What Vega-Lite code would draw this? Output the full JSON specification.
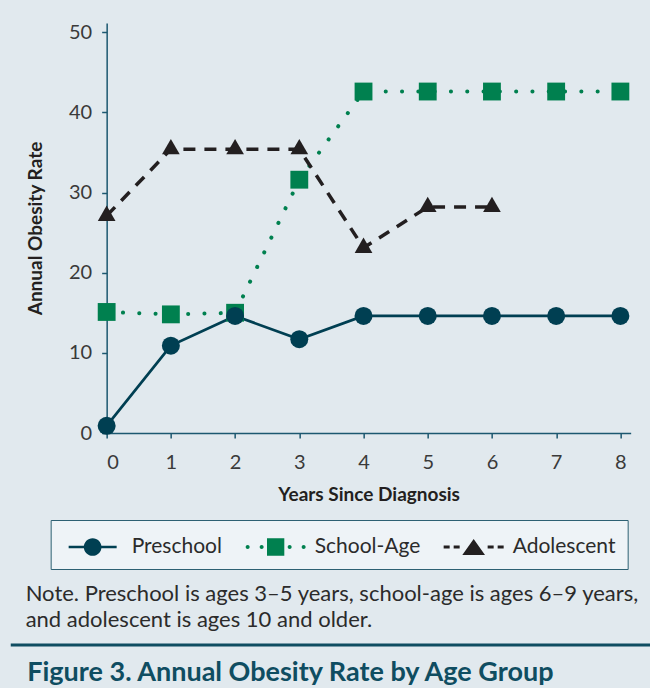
{
  "$schema": "https://vega.github.io/schema/vega-lite/v6.json",
  "background": "#e1e9ee",
  "padding": {"left": 10, "top": 22, "right": 0, "bottom": 0},
  "spacing": 12,
  "center": true,
  "config": {
    "font": "Lato",
    "view": {"stroke": null},
    "axis": {
      "domainColor": "#1c5870",
      "tickColor": "#1c5870",
      "domainWidth": 1.5,
      "tickWidth": 1.5,
      "tickSize": 5,
      "grid": false,
      "labelFont": "Lato",
      "labelFontSize": 20,
      "labelColor": "#3a3a3a",
      "titleFont": "Lato",
      "titleFontSize": 19,
      "titleFontWeight": "bold",
      "titleColor": "#231f20"
    }
  },
  "vconcat": [
    {
      "width": 524,
      "height": 410,
      "data": {
        "values": [
          {"group": "School-Age", "year": 0, "rate": 15.1},
          {"group": "School-Age", "year": 1, "rate": 14.8},
          {"group": "School-Age", "year": 2, "rate": 15.0},
          {"group": "School-Age", "year": 3, "rate": 31.6},
          {"group": "School-Age", "year": 4, "rate": 42.6},
          {"group": "School-Age", "year": 5, "rate": 42.6},
          {"group": "School-Age", "year": 6, "rate": 42.6},
          {"group": "School-Age", "year": 7, "rate": 42.6},
          {"group": "School-Age", "year": 8, "rate": 42.6},
          {"group": "Adolescent", "year": 0, "rate": 27.1},
          {"group": "Adolescent", "year": 1, "rate": 35.4},
          {"group": "Adolescent", "year": 2, "rate": 35.4},
          {"group": "Adolescent", "year": 3, "rate": 35.4},
          {"group": "Adolescent", "year": 4, "rate": 23.1},
          {"group": "Adolescent", "year": 5, "rate": 28.2},
          {"group": "Adolescent", "year": 6, "rate": 28.2},
          {"group": "Preschool", "year": 0, "rate": 0.9},
          {"group": "Preschool", "year": 1, "rate": 10.9},
          {"group": "Preschool", "year": 2, "rate": 14.6},
          {"group": "Preschool", "year": 3, "rate": 11.7},
          {"group": "Preschool", "year": 4, "rate": 14.6},
          {"group": "Preschool", "year": 5, "rate": 14.6},
          {"group": "Preschool", "year": 6, "rate": 14.6},
          {"group": "Preschool", "year": 7, "rate": 14.6},
          {"group": "Preschool", "year": 8, "rate": 14.6}
        ]
      },
      "title": {
        "text": ["Note. Preschool is ages 3–5 years, school-age is ages 6–9 years,", "and adolescent is ages 10 and older."],
        "orient": "bottom",
        "anchor": "start",
        "frame": "group",
        "dx": -81,
        "offset": 14,
        "font": "Lato",
        "fontSize": 22,
        "fontWeight": "normal",
        "color": "#2b2b2b",
        "lineHeight": 26
      },
      "encoding": {
        "x": {
          "field": "year",
          "type": "quantitative",
          "scale": {"domain": [0, 8.16], "nice": false, "zero": false},
          "axis": {"values": [0, 1, 2, 3, 4, 5, 6, 7, 8], "format": "d", "title": "Years Since Diagnosis", "labelPadding": 14, "titlePadding": 13}
        },
        "y": {
          "field": "rate",
          "type": "quantitative",
          "scale": {"domain": [0, 51.15], "nice": false},
          "axis": {"values": [0, 10, 20, 30, 40, 50], "format": "d", "title": "Annual Obesity Rate", "labelPadding": 10, "titlePadding": 23}
        }
      },
      "layer": [
        {
          "transform": [{"filter": "datum.group === 'School-Age'"}],
          "mark": {"type": "line", "color": "#00804f", "strokeWidth": 4, "strokeDash": [0.1, 16.2], "strokeCap": "round"}
        },
        {
          "transform": [{"filter": "datum.group === 'Adolescent'"}],
          "mark": {"type": "line", "color": "#231f20", "strokeWidth": 3.5, "strokeDash": [12, 9]}
        },
        {
          "transform": [{"filter": "datum.group === 'Preschool'"}],
          "mark": {"type": "line", "color": "#003f52", "strokeWidth": 2.7}
        },
        {
          "mark": {"type": "point", "filled": true, "opacity": 1},
          "encoding": {
            "color": {"field": "group", "type": "nominal", "scale": {"domain": ["Preschool", "School-Age", "Adolescent"], "range": ["#003f52", "#00804f", "#231f20"]}, "legend": null},
            "shape": {"field": "group", "type": "nominal", "scale": {"domain": ["Preschool", "School-Age", "Adolescent"], "range": ["circle", "square", "M0,-1.155L1,0.577L-1,0.577Z"]}, "legend": null},
            "size": {"field": "group", "type": "nominal", "scale": {"domain": ["Preschool", "School-Age", "Adolescent"], "range": [324, 313, 441]}, "legend": null}
          }
        },
        {
          "transform": [{"filter": "datum.year > 100"}],
          "mark": {"type": "point", "filled": true, "opacity": 1, "size": 900},
          "encoding": {
            "color": {
              "field": "group", "type": "nominal",
              "scale": {"domain": ["Preschool", "School-Age", "Adolescent"], "range": ["#003f52", "#00804f", "#231f20"]},
              "legend": {"title": null, "orient": "none", "legendX": -56, "legendY": 497, "direction": "horizontal", "fillColor": "#eef3f7", "strokeColor": "#2d6073", "padding": 12, "labelFont": "Lato", "labelFontSize": 21, "labelColor": "#2b2b2b", "labelOffset": 39, "columnPadding": 23, "symbolSize": 900, "symbolStrokeWidth": 0, "symbolOpacity": 1}
            },
            "shape": {
              "field": "group", "type": "nominal",
              "scale": {"domain": ["Preschool", "School-Age", "Adolescent"], "range": [
                "M-0.6,-0.09H2.6V0.09H-0.6Z M1.59,0A0.59,0.59 0 1 1 0.41,0A0.59,0.59 0 1 1 1.59,0Z",
                "M0.423,-0.577H1.577V0.577H0.423Z M-0.733,0A0.133,0.133 0 1 1 -1,0A0.133,0.133 0 1 1 -0.733,0Z M0.2,0A0.133,0.133 0 1 1 -0.067,0A0.133,0.133 0 1 1 0.2,0Z M2.067,0A0.133,0.133 0 1 1 1.8,0A0.133,0.133 0 1 1 2.067,0Z M3,0A0.133,0.133 0 1 1 2.733,0A0.133,0.133 0 1 1 3,0Z",
                "M1,-0.533L1.757,0.533L0.243,0.533Z M-1,-0.1H-0.6V0.1H-1Z M-0.333,-0.1H0.067V0.1H-0.333Z M1.933,-0.1H2.333V0.1H1.933Z M2.6,-0.1H3V0.1H2.6Z"
              ]},
              "legend": {"title": null, "orient": "none", "legendX": -56, "legendY": 497, "direction": "horizontal", "fillColor": "#eef3f7", "strokeColor": "#2d6073", "padding": 12, "labelFont": "Lato", "labelFontSize": 21, "labelColor": "#2b2b2b", "labelOffset": 39, "columnPadding": 23, "symbolSize": 900, "symbolStrokeWidth": 0, "symbolOpacity": 1}
            }
          }
        }
      ],
      "resolve": {"scale": {"color": "independent", "shape": "independent", "size": "independent"}}
    },
    {
      "width": 720,
      "height": 0.01,
      "data": {"values": [{"k": 1}]},
      "mark": {"type": "point", "opacity": 0, "size": 1},
      "encoding": {},
      "view": {"stroke": "#0f4d61", "strokeWidth": 3},
      "title": {
        "text": "Figure 3. Annual Obesity Rate by Age Group",
        "orient": "bottom",
        "anchor": "start",
        "frame": "group",
        "dx": 15,
        "offset": 14,
        "font": "Lato",
        "fontSize": 27,
        "fontWeight": "bold",
        "color": "#0f4d61"
      }
    }
  ]
}
